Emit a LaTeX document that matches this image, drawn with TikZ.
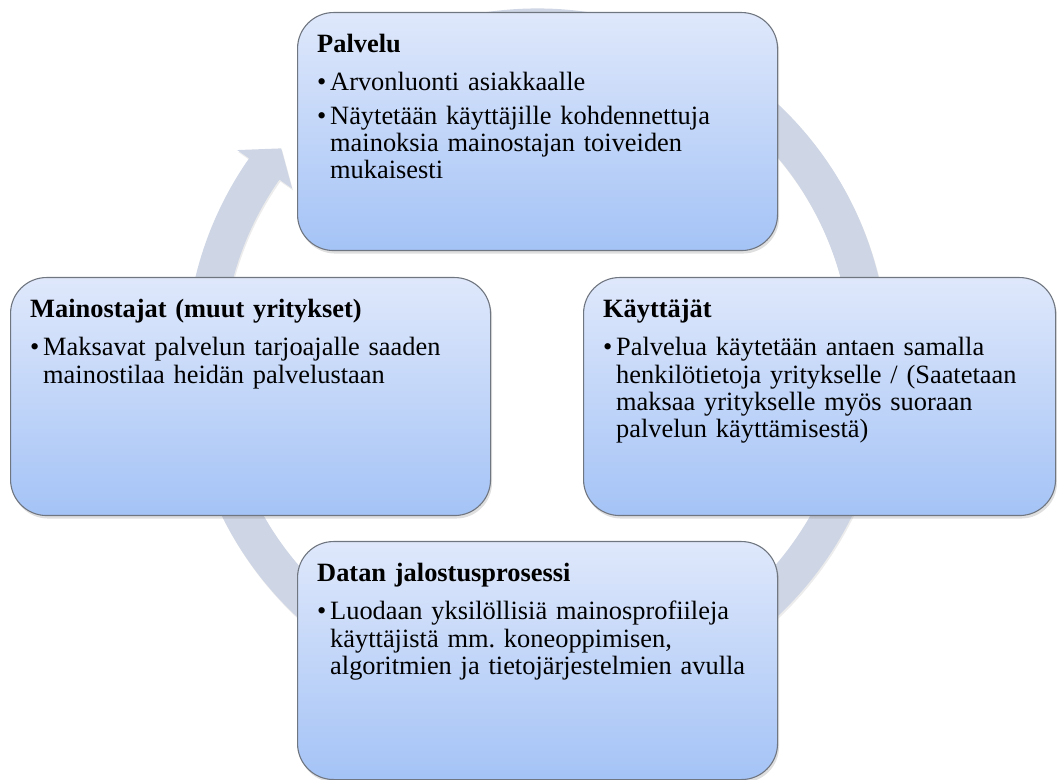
\documentclass[tikz,border=0pt]{standalone}
\usepackage{fontspec}
\setmainfont{Liberation Serif}
\usetikzlibrary{shadows}

\definecolor{cardtop}{RGB}{223,232,251}
\definecolor{cardbottom}{RGB}{164,195,246}
\definecolor{cardline}{RGB}{112,118,128}
\definecolor{ringfill}{RGB}{206,213,228}

\newcommand{\cardhead}[1]{\rule{0pt}{20pt}\textbf{#1}\par\vspace{11pt}}
\newcommand{\cardpoint}[1]{{\leftskip=13pt\noindent\llap{\makebox[13pt][l]{\textbullet}}#1\par}\vspace{6pt}}

\tikzset{
  card/.style={draw=cardline, line width=1.1pt, rounded corners=36pt,
    top color=cardtop, bottom color=cardbottom, anchor=north west,
    minimum width=480pt, minimum height=238pt, inner sep=0pt,
    drop shadow={shadow xshift=1.5pt, shadow yshift=-3pt, opacity=0.25}},
  cardtext/.style={anchor=north west, inner sep=0pt, text width=455pt,
    align=left, font=\fontsize{26.4}{27.3}\selectfont\frenchspacing},
  ring/.style={fill=ringfill,
    drop shadow={shadow xshift=1pt, shadow yshift=-2pt, opacity=0.15}}
}

\begin{document}
\begin{tikzpicture}[x=1pt, y=1pt]
  \useasboundingbox (0,0) rectangle (1057,779);
  % cycle arrow behind the cards
  \begin{scope}[shift={(537,419)}]
    \fill[ring] (100:351.5) arc[start angle=100, end angle=-215, radius=351.5]
      -- (145:366) -- (140.4:332) -- (145:299) -- (145:314.5)
      arc[start angle=-215, end angle=100, radius=314.5] -- cycle;
  \end{scope}
  % cards
  \node[card] (palvelu) at (297,767) {};
  \node[card] (mainostajat) at (10,502) {};
  \node[card, minimum width=472pt] (kayttajat) at (583,502) {};
  \node[card] (datan) at (297,238) {};
  \node[cardtext] (palvelu-text) at ([xshift=20pt, yshift=-20.5pt]palvelu.north west) {%
    \cardhead{Palvelu}
    \cardpoint{Arvonluonti asiakkaalle}
    \cardpoint{Näytetään käyttäjille kohdennettuja\\mainoksia mainostajan toiveiden\\mukaisesti}};
  \node[cardtext] (mainostajat-text) at ([xshift=20pt, yshift=-20.5pt]mainostajat.north west) {%
    \cardhead{Mainostajat (muut yritykset)}
    \cardpoint{Maksavat palvelun tarjoajalle saaden\\mainostilaa heidän palvelustaan}};
  \node[cardtext] (kayttajat-text) at ([xshift=20pt, yshift=-20.5pt]kayttajat.north west) {%
    \cardhead{Käyttäjät}
    \cardpoint{Palvelua käytetään antaen samalla\\henkilötietoja yritykselle / (Saatetaan\\maksaa yritykselle myös suoraan\\palvelun käyttämisestä)}};
  \node[cardtext] (datan-text) at ([xshift=20pt, yshift=-20.5pt]datan.north west) {%
    \cardhead{Datan jalostusprosessi}
    \cardpoint{Luodaan yksilöllisiä mainosprofiileja\\käyttäjistä mm. koneoppimisen,\\algoritmien ja tietojärjestelmien avulla}};
\end{tikzpicture}
\end{document}
